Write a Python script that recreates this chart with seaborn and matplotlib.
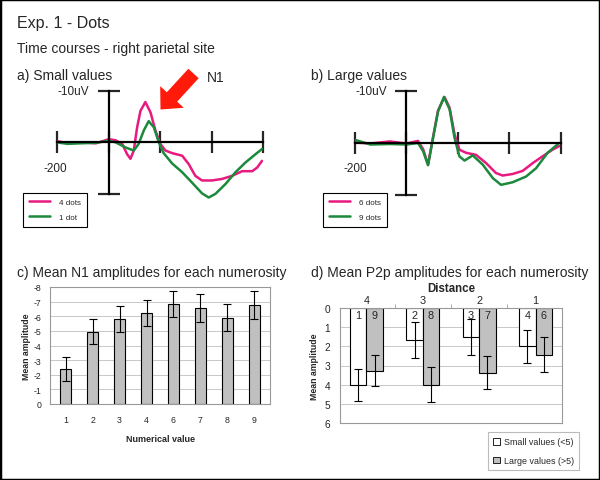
import numpy as np
import pandas as pd
import matplotlib
matplotlib.use("Agg")
import matplotlib.pyplot as plt
import matplotlib.patches as mpatches
import seaborn as sns

# ---- data ----
# time courses (ms, uV; negative is plotted upward)
t_a4 = [-205, -160, -110, -50, 0, 26, 52, 71, 84, 97, 110, 123, 142, 162, 181, 200, 220, 246, 285, 310,
        336, 362, 401, 440, 479, 518, 557, 576, 595]
v_a4 = [-0.3, 0.2, 0.0, 0.2, -0.6, -0.4, 0.3, 2.3, 3.2, 1.6, -2.9, -6.1, -7.8, -5.8, -2.3, 0.3, 1.6, 2.1,
        2.6, 4.2, 6.5, 7.4, 7.4, 7.1, 6.5, 5.6, 5.6, 4.9, 3.6]
t_a1 = [-205, -160, -110, -50, 0, 26, 65, 97, 116, 136, 155, 175, 194, 213, 246, 285, 323, 362, 388,
        414, 453, 492, 531, 570, 595]
v_a1 = [0.0, 0.3, 0.2, 0.1, -0.3, 0.0, 1.0, 1.6, 0.3, -2.3, -4.1, -2.9, 0.0, 2.1, 4.1, 5.8, 7.8, 9.9,
        10.7, 10.0, 8.1, 5.8, 3.9, 2.3, 1.3]
t_b6 = [-200, -140, -65, 0, 45, 65, 84, 103, 123, 148, 168, 187, 206, 232, 271, 310, 348, 374, 413,
        452, 491, 529, 568, 594]
v_b6 = [-0.1, 0.1, -0.3, 0.1, -0.4, 1.2, 4.2, -1.0, -6.3, -8.9, -6.8, -1.7, 1.3, 1.9, 2.3, 3.9, 5.8,
        6.3, 6.0, 5.4, 3.9, 2.6, 1.3, 0.6]
t_b9 = [-200, -140, -65, 0, 45, 65, 84, 103, 123, 146, 168, 187, 206, 226, 258, 297, 336, 368, 413,
        465, 504, 549, 594]
v_b9 = [-0.6, 0.3, 0.2, 0.3, 0.0, 1.6, 4.3, -0.8, -6.1, -8.9, -6.5, -1.0, 2.6, 3.4, 2.4, 4.2, 6.8,
        8.1, 7.6, 6.5, 4.9, 1.9, 0.0]

# mean N1 amplitudes
n1_cats = ["1", "2", "3", "4", "6", "7", "8", "9"]
n1_vals = [-2.4, -4.95, -5.8, -6.2, -6.85, -6.55, -5.9, -6.75]
n1_errs = [0.8, 0.88, 0.9, 0.9, 0.9, 0.95, 0.92, 0.95]

# mean P2p amplitudes
distances = ["4", "3", "2", "1"]
small_nums = ["1", "2", "3", "4"]
large_nums = ["9", "8", "7", "6"]
small_vals = [4.0, 1.67, 1.53, 2.0]
large_vals = [3.27, 4.0, 3.38, 2.43]
small_errs = [0.83, 0.95, 0.94, 0.87]
large_errs = [0.82, 0.9, 0.86, 0.9]

PINK = "#e8197f"
GREEN = "#1b8a3c"
GREY = "#c0c0c0"

sns.set_style("white")
plt.rcParams["font.family"] = ["Liberation Sans", "DejaVu Sans"]
plt.rcParams["axes.unicode_minus"] = False

W, H = 600, 481
fig = plt.figure(figsize=(W / 100, H / 100), dpi=100)


def ax_px(x0, y0, x1, y1):
    return fig.add_axes([x0 / W, 1 - y1 / H, (x1 - x0) / W, (y1 - y0) / H])


def ftext(x, y, s, **kw):
    fig.text(x / W, 1 - y / H, s, va="baseline", **kw)


# ---- time course panels ----
def erp_axis(ax, t1, v1, l1, t2, v2, l2, leg_xy):
    ax.set_facecolor("none")
    sns.lineplot(x=t1, y=v1, ax=ax, color=PINK, lw=1.8, label=l1, sort=False)
    sns.lineplot(x=t2, y=v2, ax=ax, color=GREEN, lw=1.8, label=l2, sort=False)
    ax.set_xlim(-200, 600)
    ax.set_ylim(12, -10)
    for s in ["top", "right"]:
        ax.spines[s].set_visible(False)
    ax.spines["left"].set_position(("data", 0))
    ax.spines["bottom"].set_position(("data", 0))
    ax.spines["left"].set_bounds(-10, 10)
    ax.spines["bottom"].set_bounds(-200, 600)
    for s in ["left", "bottom"]:
        ax.spines[s].set_linewidth(1.6)
        ax.spines[s].set_color("black")
    ax.set_xticks([-200, 0, 200, 400, 600])
    ax.set_yticks([-10, 10])
    ax.tick_params(direction="inout", length=16, width=1.6, labelleft=False, labelbottom=False,
                   left=True, bottom=True)
    ax.set_xlabel("")
    ax.set_ylabel("")
    ax.legend(loc="upper left", bbox_to_anchor=(leg_xy[0] / W, 1 - leg_xy[1] / H),
              bbox_transform=fig.transFigure, fontsize=5.8, frameon=True, fancybox=False,
              edgecolor="black", framealpha=1, handlelength=2.6, borderpad=0.7,
              labelspacing=0.9, handletextpad=1.2, borderaxespad=0)
    ax.get_legend().get_frame().set_linewidth(0.8)


ax_a = ax_px(57.3, 91.7, 263.3, 205.2)
erp_axis(ax_a, t_a4, v_a4, "4 dots", t_a1, v_a1, "1 dot", (23, 194))
ax_b = ax_px(355, 92.3, 560.7, 206)
erp_axis(ax_b, t_b6, v_b6, "6 dots", t_b9, v_b9, "9 dots", (323, 194))

# ---- panel c: mean N1 ----
ax_c = ax_px(50, 288, 270, 405)
sns.barplot(x=n1_cats, y=n1_vals, color=GREY, edgecolor="black", linewidth=0.8, width=0.42,
            saturation=1, ax=ax_c)
ax_c.errorbar(np.arange(len(n1_cats)), n1_vals, yerr=n1_errs, fmt="none", ecolor="black",
              elinewidth=0.8, capsize=3, capthick=0.8)
ax_c.set_ylim(0, -8)
ax_c.set_yticks(np.arange(0, -9, -1))
ax_c.yaxis.grid(True, color="#c8c8c8", lw=0.7)
ax_c.set_axisbelow(True)
for s in ax_c.spines.values():
    s.set_color("#999999")
    s.set_linewidth(0.8)
ax_c.tick_params(axis="both", labelsize=6.3, length=2, color="#999999", pad=4)
ax_c.tick_params(axis="x", length=0, pad=8)
ax_c.set_xlabel("Numerical value", fontsize=6.5, fontweight="bold", labelpad=7)
ax_c.set_ylabel("Mean amplitude", fontsize=6.3, fontweight="bold", labelpad=2)

# ---- panel d: mean P2p ----
df = pd.DataFrame({
    "distance": distances * 2,
    "group": ["Small values (<5)"] * 4 + ["Large values (>5)"] * 4,
    "amp": small_vals + large_vals,
})
ax_d = ax_px(340, 309, 562, 424)
sns.barplot(data=df, x="distance", y="amp", hue="group", palette=["white", GREY],
            edgecolor="black", linewidth=0.8, width=0.58, saturation=1, ax=ax_d)
ax_d.set_ylim(6, 0)
ax_d.set_yticks(range(7))
ax_d.yaxis.grid(True, color="#c8c8c8", lw=0.7)
ax_d.set_axisbelow(True)
for cont, vals, errs, nums in zip(ax_d.containers, [small_vals, large_vals],
                                  [small_errs, large_errs], [small_nums, large_nums]):
    xs = [b.get_x() + b.get_width() / 2 for b in cont]
    ax_d.errorbar(xs, vals, yerr=errs, fmt="none", ecolor="black", elinewidth=0.8,
                  capsize=3, capthick=0.8)
    for xc, n in zip(xs, nums):
        ax_d.annotate(n, (xc, 0), xytext=(0, -1.5), textcoords="offset points",
                      ha="center", va="top", fontsize=7.8)
for s in ax_d.spines.values():
    s.set_color("#999999")
    s.set_linewidth(0.8)
ax_d.xaxis.tick_top()
ax_d.xaxis.set_label_position("top")
ax_d.set_xticks([0.5, 1.5, 2.5], minor=True)
ax_d.tick_params(axis="x", which="major", length=0, labelsize=7.8, pad=2)
ax_d.tick_params(axis="x", which="minor", length=3, color="#999999", top=True)
ax_d.tick_params(axis="y", labelsize=7.3, length=2, color="#999999", pad=5)
ax_d.set_xlabel("Distance", fontsize=8.3, fontweight="bold", labelpad=3)
ax_d.set_ylabel("Mean amplitude", fontsize=6.3, fontweight="bold", labelpad=4)
leg = ax_d.legend(loc="upper left", bbox_to_anchor=(488 / W, 1 - 433 / H),
                  bbox_transform=fig.transFigure, fontsize=6.4, frameon=True, fancybox=False,
                  edgecolor="#bbbbbb", framealpha=1, handlelength=0.8, handleheight=0.8,
                  labelspacing=1.1, handletextpad=0.4, borderpad=0.6, borderaxespad=0)
leg.get_frame().set_linewidth(0.8)
for p in leg.get_patches():
    p.set_edgecolor("black")
    p.set_linewidth(0.6)

# ---- texts ----
ftext(17, 28, "Exp. 1 - Dots", fontsize=11.5)
ftext(17, 53, "Time courses - right parietal site", fontsize=10)
ftext(17, 80, "a) Small values", fontsize=10)
ftext(311, 80, "b) Large values", fontsize=10)
ftext(207, 82, "N1", fontsize=10)
ftext(57, 95, "-10uV", fontsize=8.5)
ftext(355, 95, "-10uV", fontsize=8.5)
ftext(43, 172, "-200", fontsize=8.5)
ftext(343, 172, "-200", fontsize=8.5)
ftext(17, 277, "c) Mean N1 amplitudes for each numerosity", fontsize=10)
ftext(311, 277, "d) Mean P2p amplitudes for each numerosity", fontsize=10)

# red arrow pointing at the N1 peak
fig.add_artist(mpatches.FancyArrow(1.935, (H - 74.5) / 100, -0.33, -0.36, width=0.14,
                                   head_width=0.32, head_length=0.17, length_includes_head=True,
                                   color="#ff1a0a", lw=0, transform=fig.dpi_scale_trans))

# frame round the figure
fig.add_artist(mpatches.Rectangle((0, 0), 1, 1, transform=fig.transFigure, fill=False,
                                  edgecolor="black", lw=2.5))

fig.savefig("out.png", dpi=100)
